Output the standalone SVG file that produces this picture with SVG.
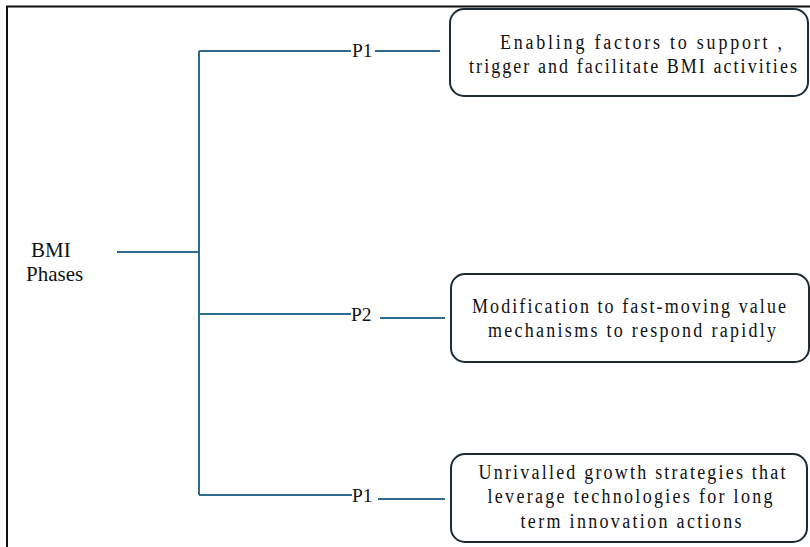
<svg xmlns="http://www.w3.org/2000/svg" width="810" height="547" viewBox="0 0 810 547">
<style>
.t{font-size:18px;text-anchor:middle;fill:#111}
.l{font-size:21px;fill:#111}
.p{font-size:19.5px;fill:#111}
.c{stroke:#2f6b8f;stroke-width:2;fill:none}
.b{fill:#fff;stroke:#1c2b36;stroke-width:2}
</style>
<rect width="810" height="547" fill="#fff"/>
<path d="M7 547 V6.5 H810" fill="none" stroke="#111" stroke-width="2"/>
<g id="root" font-family="'Liberation Serif', 'Times New Roman', serif">
<text class="l" x="31" y="257">BMI</text>
<text class="l" x="26" y="281">Phases</text>
</g>
<g id="connectors" font-family="'Liberation Serif', 'Times New Roman', serif">
<path class="c" d="M117 252 H199"/>
<path class="c" d="M199 51 V495"/>
<path class="c" d="M199 51 H351"/>
<path class="c" d="M375 51 H440"/>
<path class="c" d="M199 314 H351"/>
<path class="c" d="M380 318 H445"/>
<path class="c" d="M199 495 H352"/>
<path class="c" d="M378 499 H445"/>
<text class="p" x="352" y="57">P1</text>
<text class="p" x="351" y="321">P2</text>
<text class="p" x="352" y="502">P1</text>
</g>
<g id="n1" font-family="'Liberation Serif', 'Times New Roman', serif">
<rect class="b" x="450" y="9" width="358" height="87" rx="14"/>
<text class="t" transform="translate(641 49) scale(1 1.2)" textLength="282" lengthAdjust="spacing">Enabling factors to support ,</text>
<text class="t" transform="translate(633 73) scale(1 1.2)" textLength="328" lengthAdjust="spacing">trigger and facilitate BMI activities</text>
</g>
<g id="n2" font-family="'Liberation Serif', 'Times New Roman', serif">
<rect class="b" x="451" y="274" width="358" height="88" rx="14"/>
<text class="t" transform="translate(629 313) scale(1 1.2)" textLength="314" lengthAdjust="spacing">Modification to fast-moving value</text>
<text class="t" transform="translate(632 337) scale(1 1.2)" textLength="288" lengthAdjust="spacing">mechanisms to respond rapidly</text>
</g>
<g id="n3" font-family="'Liberation Serif', 'Times New Roman', serif">
<rect class="b" x="451" y="454" width="356" height="88" rx="14"/>
<text class="t" transform="translate(632 479) scale(1 1.2)" textLength="307" lengthAdjust="spacing">Unrivalled growth strategies that</text>
<text class="t" transform="translate(630 503) scale(1 1.2)" textLength="285" lengthAdjust="spacing">leverage technologies for long</text>
<text class="t" transform="translate(631 528) scale(1 1.2)" textLength="221" lengthAdjust="spacing">term innovation actions</text>
</g>
</svg>
